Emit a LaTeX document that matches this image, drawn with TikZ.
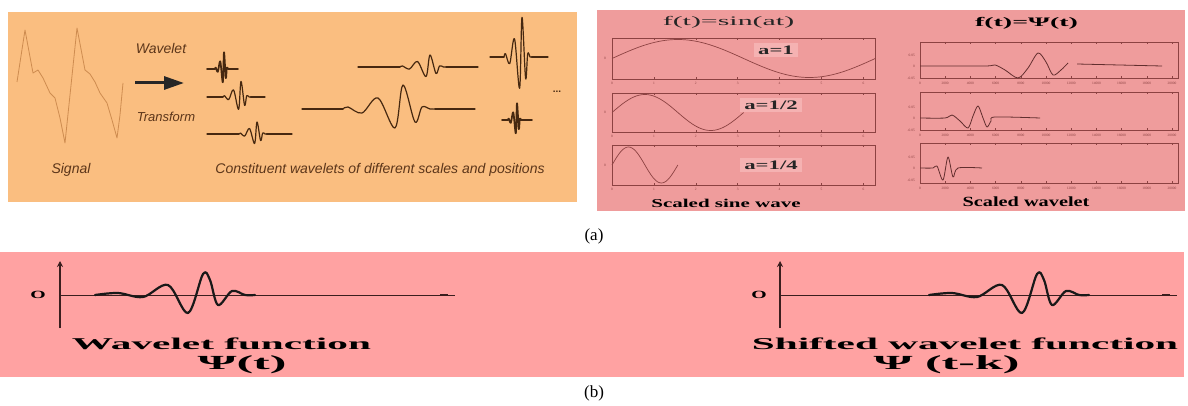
\documentclass[tikz,border=0pt]{standalone}
\usepackage{fontspec}
\setmainfont{Liberation Serif}
\newfontfamily\arialf{Liberation Sans}
\usetikzlibrary{arrows.meta}
\definecolor{orangebg}{RGB}{250,190,128}
\definecolor{pinkbg}{RGB}{239,156,156}
\definecolor{pinkbot}{RGB}{255,162,162}
\definecolor{brownink}{RGB}{70,40,16}
\definecolor{txtbrown}{RGB}{92,54,26}
\definecolor{sigcol}{RGB}{206,140,80}
\definecolor{plotcol}{RGB}{140,66,66}
\definecolor{labpatch}{RGB}{245,178,178}
\definecolor{axcol}{RGB}{58,30,30}
\newcommand\fsz[1]{\fontsize{#1}{#1}\selectfont}
\tikzset{
  wv/.style={draw=brownink, line width=1.2pt, line cap=round, line join=round},
  sig/.style={draw=sigcol, line width=0.8pt, line join=round},
  itxt/.style={text=txtbrown, inner sep=0pt, font=\arialf\itshape},
  btxt/.style={text=black, inner sep=0pt, font=\bfseries},
  stxt/.style={text=black!85, inner sep=0pt},
  plotbox/.style={draw=plotcol, line width=0.6pt},
  curve/.style={draw=plotcol, line width=0.7pt},
  rwv/.style={draw=plotcol!70!black, line width=0.8pt, line join=round},
  tick/.style={text=plotcol, inner sep=0pt, font=\fsz{3.5}},
  alab/.style={text=black!85, inner sep=2.5pt, fill=labpatch, font=\bfseries},
  axv/.style={draw=axcol, line width=2.8pt, -{Stealth[length=6pt,width=6pt]}},
  axh/.style={draw=axcol, line width=0.8pt},
  bw/.style={draw=black!90, line width=2.2pt, line join=round, line cap=round}
}
% wavelet: [style] cx cy sx sy xl xr
\newcommand\wvlt[7][wv]{%
  \draw[#1] (#6,#3) -- ({#2-60*#4},#3);
  \draw[#1] ({#2+32*#4},#3) -- (#7,#3);
  \begin{scope}[shift={(#2,#3)},xscale=#4,yscale=#5]
    \draw[#1] plot[smooth,tension=0.55] coordinates {(-60,0)(-55,-2)(-41,4)(-25,-11)(-8,19)(0,-24)(12,13)(19,-2)(27,0)(32,0)};
  \end{scope}}
\begin{document}
\begin{tikzpicture}[x=1pt,y=-1pt]
\useasboundingbox (0,0) rectangle (1188,406);
% panels
\fill[orangebg] (8,12) rectangle (577,202);
\fill[pinkbg] (597,10) rectangle (1185,211);
\fill[pinkbot] (0,252) rectangle (1184,377);

% ---------- orange panel ----------
\draw[sig] (17,82) -- (25,30) -- (33,73) -- (38,70) -- (43,78) -- (50,93) -- (55,98) -- (60,118) -- (65,143) -- (70,95) -- (77,28) -- (85,70) -- (90,74) -- (95,82) -- (100,93) -- (107,103) -- (112,120) -- (117,138) -- (120,115) -- (123,83);
\node[itxt] (signal) at (71,170) {\fsz{14}Signal};
\node[itxt] (wlt) at (161,48) {\fsz{14}Wavelet};
\node[itxt] (trf) at (166,117) {\fsz{13}Transform};
\coordinate (a0) at (135,83);
\coordinate (a1) at (184,83);
\draw[line width=3pt, draw=black!85, -{Triangle[length=20pt,width=13pt]}] (a0) -- (a1);
\wvlt[wv,line width=1.7pt]{224}{69}{0.15}{0.7}{207}{238}
\wvlt{241}{97}{0.3}{0.65}{207}{265}
\wvlt{257}{134}{0.3}{0.5}{207}{292}
\wvlt{430}{67}{0.5}{0.5}{358}{478}
\wvlt{403}{109}{1}{1}{302}{475}
\wvlt{522}{57}{0.3}{1.65}{490}{548}
\wvlt[wv,line width=1.7pt]{517}{120}{0.15}{0.7}{502}{532}
\node[text=brownink, inner sep=0pt, font=\arialf\bfseries\fsz{10}] (dots) at (557,92) {...};
\node[itxt] (const) at (380,170) {\fsz{14}Constituent wavelets of different scales and positions};

% ---------- pink panel: sine ----------
\node[stxt, xscale=2.3] (fsin) at (728.5,22) {\fsz{13}f(t)=sin(at)};
\draw[plotbox] (612,38) rectangle (875,79);
\draw[plotbox] (612,93) rectangle (875,132);
\draw[plotbox] (612,145) rectangle (875,185);
\foreach \by/\ty in {79/38,132/93,185/145} {
  \foreach \k in {0,...,6} {
    \draw[plotbox] ({612+41.9*\k},\by) -- ++(0,-2);
    \draw[plotbox] ({612+41.9*\k},\ty) -- ++(0,2);
    \node[tick] (ts\by\k) at ({612+41.9*\k},{\by+4}) {\k};
  }
}
\node[tick] (ys1) at (605,58.5) {0};
\node[tick] (ys2) at (605,112.5) {0};
\node[tick] (ys3) at (605,165) {0};
\draw[curve] plot[domain=0:6.2832,samples=80] ({612+41.9*\x},{58.5-19*sin(\x r)});
\draw[curve] plot[domain=0:3.1416,samples=60] ({612+41.9*\x},{112.5-18*sin(2*\x r)});
\draw[curve] plot[domain=0:1.5708,samples=40] ({612+41.9*\x},{165-18*sin(4*\x r)});
\node[alab, xscale=1.75] (a1l) at (776,50) {\fsz{13}a=1};
\node[alab, xscale=1.75] (a2l) at (771,105) {\fsz{13}a=1/2};
\node[alab, xscale=1.75] (a4l) at (771,165) {\fsz{13}a=1/4};
\node[btxt, xscale=1.75] (ssw) at (726,203) {\fsz{12}Scaled sine wave};

% ---------- pink panel: wavelet ----------
\node[btxt, xscale=2.15] (fpsi) at (1026.5,23) {\fsz{13}f(t)=Ψ(t)};
\draw[plotbox] (920,42) rectangle (1178,78);
\draw[plotbox] (920,92) rectangle (1178,130);
\draw[plotbox] (920,143) rectangle (1178,183);
\foreach \by/\ty/\my in {78/42/66,130/92/118,183/143/168} {
  \foreach \k in {0,...,10} {
    \draw[plotbox] ({920+25.2*\k},\by) -- ++(0,-2);
    \draw[plotbox] ({920+25.2*\k},\ty) -- ++(0,2);
    \node[tick] (tw\by\k) at ({920+25.2*\k},{\by+5}) {\the\numexpr\k*2000\relax};
  }
  \node[tick, anchor=east] (yw\by a) at (915,{\my-11}) {0.05};
  \node[tick, anchor=east] (yw\by b) at (915,\my) {0};
  \node[tick, anchor=east] (yw\by c) at (915,{\my+12}) {-0.05};
}
\draw[rwv] plot[smooth,tension=0.5] coordinates {(920,66)(985,66)(995,65)(1005,70)(1018,78)(1028,68)(1038,53)(1046,62)(1053,75)(1061,70)(1068,63)};
\draw[rwv] (1077,64) -- (1162,66);
\draw[rwv] plot[smooth,tension=0.5] coordinates {(920,118)(945,118)(952,115)(960,121)(968,128)(973,116)(978,106)(983,118)(987,127)(991,121)(995,117)(1040,118)};
\draw[rwv] plot[smooth,tension=0.5] coordinates {(920,168)(933,168)(937,166)(943,180)(948,157)(953,177)(958,168)(982,168)};
\node[btxt, xscale=1.45] (swl) at (1026,202) {\fsz{14}Scaled wavelet};

\node[stxt, text=black] (capa) at (594,236) {\fsz{17}(a)};

% ---------- bottom panel ----------
\coordinate (v1b) at (60,328);
\coordinate (v1t) at (60,261);
\coordinate (h1l) at (60,295);
\coordinate (h1r) at (455,295);
\draw[axv] (v1b) -- (v1t);
\draw[axh] (h1l) -- (h1r);
\draw[axcol, line width=1.6pt] (440,295) -- (448,295);
\node[btxt, xscale=1.8] (o1) at (38,295) {\fsz{11}O};
\draw[bw] plot[smooth,tension=0.55] coordinates {(95,295)(118,293)(143,297)(168,285)(188,313)(203,274)(210,280)(218,305)(232,291)(245,295)(255,295)};
\node[btxt, xscale=2.5] (wf) at (221.5,344) {\fsz{16.5}Wavelet function};
\node[btxt, xscale=2.5] (psi1) at (242,365) {\fsz{20}Ψ(t)};

\coordinate (v2b) at (780,328);
\coordinate (v2t) at (780,261);
\coordinate (h2l) at (780,295);
\coordinate (h2r) at (1177,295);
\draw[axv] (v2b) -- (v2t);
\draw[axh] (h2l) -- (h2r);
\draw[axcol, line width=1.6pt] (1162,295) -- (1170,295);
\node[btxt, xscale=1.8] (o2) at (759,295) {\fsz{11}O};
\draw[bw] plot[smooth,tension=0.55] coordinates {(929,295)(952,293)(977,297)(1002,285)(1022,313)(1037,274)(1044,280)(1052,305)(1066,291)(1079,295)(1089,295)};
\node[btxt, xscale=2.5] (swf) at (965,344) {\fsz{16.5}Shifted wavelet function};
\node[btxt, xscale=2.5] (psi2) at (946.5,365) {\fsz{20}Ψ (t-k)};

\node[stxt, text=black] (capb) at (594,393) {\fsz{17}(b)};
\end{tikzpicture}
\end{document}
